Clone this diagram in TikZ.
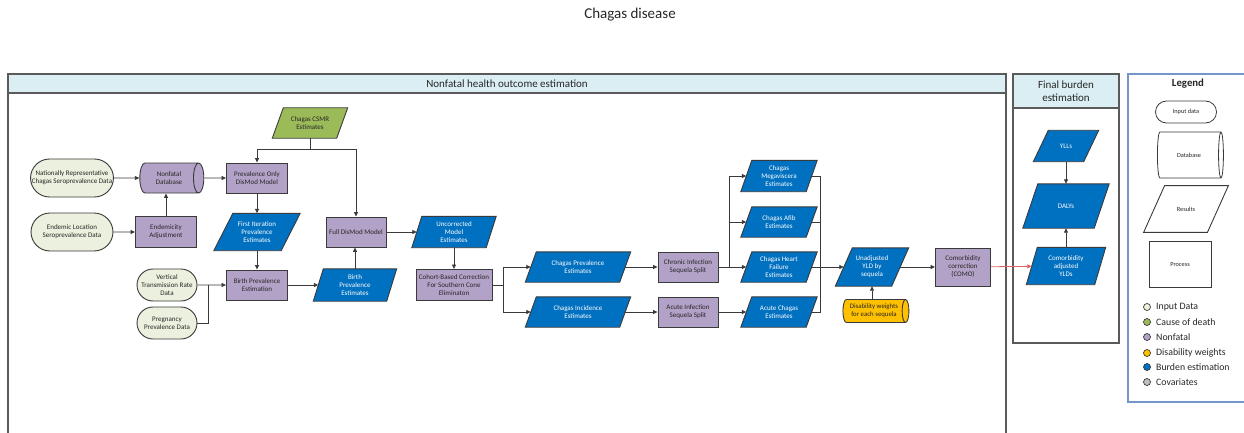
\documentclass[tikz,border=0pt]{standalone}
\usepackage{fontspec}
\setmainfont{Carlito}
\usetikzlibrary{shapes.geometric,shapes.misc,arrows.meta,calc}

\definecolor{inputc}{HTML}{EBF1DE}
\definecolor{deathc}{HTML}{9BBB59}
\definecolor{nonfatalc}{HTML}{B3A2C7}
\definecolor{dwc}{HTML}{FFC000}
\definecolor{burdenc}{HTML}{0070C0}
\definecolor{covc}{HTML}{BFBFBF}
\definecolor{headc}{HTML}{DAEEF3}
\definecolor{edgec}{HTML}{3A3A3A}
\definecolor{panelc}{HTML}{5A5A5A}
\definecolor{legendc}{HTML}{7395C8}
\definecolor{comoc}{HTML}{E06666}
\definecolor{textc}{HTML}{262626}

\pgfdeclarelayer{panels}
\pgfdeclarelayer{shapes}
\pgfsetlayers{panels,shapes,main}

\tikzset{
  base/.style={draw=edgec, line width=0.9pt, align=center, inner sep=0pt,
    font=\fontsize{7}{8}\selectfont, text=textc},
  datain/.style={base, rounded rectangle, fill=inputc},
  procbox/.style={base, rectangle, fill=nonfatalc},
  % text frame of a parallelogram; its outline is drawn on the shapes layer
  resultp/.style={align=center, inner sep=0pt, rectangle,
    font=\fontsize{7}{8}\selectfont, text=white},
  deathp/.style={resultp, text=textc},
  paraline/.style={draw=edgec, line width=0.9pt},
  dbase/.style={base, cylinder, shape aspect=0.8, fill=nonfatalc},
  conn/.style={draw=edgec, line width=0.8pt, -{Triangle[length=4.5pt,width=4pt]}},
  plain/.style={draw=edgec, line width=0.8pt},
  panel/.style={draw=panelc, line width=1.2pt},
  headtext/.style={font=\fontsize{11}{13}\selectfont, text=textc, align=center},
  legshape/.style={draw=edgec, line width=0.8pt, fill=white, align=center, inner sep=0pt,
    font=\fontsize{6.3}{7.5}\selectfont, text=textc},
  legdot/.style={circle, draw=edgec, line width=0.7pt, minimum size=7pt, inner sep=0pt},
  legtext/.style={anchor=west, font=\fontsize{9.8}{11}\selectfont, text=textc, inner sep=0pt},
}

\begin{document}
\begin{tikzpicture}[x=1pt, y=-1pt]
\path[use as bounding box] (0,0) rectangle (1244,433);
\clip (0,0) rectangle (1244,433);

% title
\node[font=\fontsize{15}{17}\selectfont, text=textc] (title) at (630,15) {Chagas disease};

% panels
\begin{pgfonlayer}{panels}
\draw[panel] (8,74) rectangle (1006,445);
\filldraw[panel, fill=headc] (8,74) rectangle (1006,93);
\draw[panel] (1013,74) rectangle (1119,343);
\filldraw[panel, fill=headc] (1013,74) rectangle (1119,108);
\draw[draw=legendc, line width=1.2pt] (1128,74) rectangle (1260,402);
\end{pgfonlayer}
\node[headtext] (mainhead) at (507,83.5) {Nonfatal health outcome estimation};
\node[headtext] (finalhead) at (1066,91) {Final burden\\estimation};
\node[font=\bfseries\fontsize{10.8}{12}\selectfont, text=textc] (leghead) at (1188,84) {Legend};

% ---------- nonfatal model ----------
\node[datain, minimum width=82pt, minimum height=38pt] (natrep) at (72,178)
  {Nationally Representative\\Chagas Seroprevalence Data};
\node[datain, minimum width=82pt, minimum height=38pt] (endloc) at (72,232)
  {Endemic Location\\Seroprevalence Data};
\node[dbase, minimum width=30pt, minimum height=64pt] (nfdb) at (169,178) {Nonfatal\\Database};
\node[procbox, minimum width=61pt, minimum height=31pt] (endadj) at (166,232) {Endemicity\\Adjustment};
\node[deathp, minimum width=64pt, minimum height=30pt] (csmr) at (310,123) {Chagas CSMR\\Estimates};
\node[procbox, minimum width=61pt, minimum height=30pt] (prevonly) at (257,178) {Prevalence Only\\DisMod Model};
\node[resultp, minimum width=67pt, minimum height=37pt] (firstit) at (257,232) {First Iteration\\Prevalence\\Estimates};
\node[datain, minimum width=60pt, minimum height=32pt] (vtr) at (167,285) {Vertical\\Transmission Rate\\Data};
\node[datain, minimum width=60pt, minimum height=32pt] (preg) at (167,323) {Pregnancy\\Prevalence Data};
\node[procbox, minimum width=61pt, minimum height=30pt] (birthest) at (257,285) {Birth Prevalence\\Estimation};
\node[resultp, minimum width=73pt, minimum height=32pt] (birthprev) at (355,285) {Birth\\Prevalence\\Estimates};
\node[procbox, minimum width=60pt, minimum height=30pt] (fulldm) at (356,232) {Full DisMod Model};
\node[resultp, minimum width=74pt, minimum height=31pt] (uncorr) at (454,232) {Uncorrected\\Model\\Estimates};
\node[procbox, minimum width=76pt, minimum height=31pt] (cohort) at (454,285)
  {Cohort-Based Correction\\For Southern Cone\\Eliminaton};
\node[resultp, minimum width=94pt, minimum height=30pt] (chprev) at (578,267) {Chagas Prevalence\\Estimates};
\node[resultp, minimum width=94pt, minimum height=30pt] (chinc) at (578,312) {Chagas Incidence\\Estimates};
\node[procbox, minimum width=60pt, minimum height=30pt] (chronic) at (688,267) {Chronic Infection\\Sequela Split};
\node[procbox, minimum width=60pt, minimum height=30pt] (acute) at (688,312) {Acute Infection\\Sequela Split};
\node[resultp, minimum width=65pt, minimum height=31pt] (mega) at (779,176) {Chagas\\Megaviscera\\Estimates};
\node[resultp, minimum width=65pt, minimum height=30pt] (afib) at (779,222) {Chagas Afib\\Estimates};
\node[resultp, minimum width=65pt, minimum height=30pt] (hf) at (779,267) {Chagas Heart\\Failure\\Estimates};
\node[resultp, minimum width=65pt, minimum height=30pt] (acest) at (779,312) {Acute Chagas\\Estimates};
\node[resultp, minimum width=56pt, minimum height=38pt] (unadj) at (872,267) {Unadjusted\\YLD by\\sequela};
\node[dbase, fill=dwc, shape aspect=0.5, minimum width=23pt, minimum height=66pt,
  font=\fontsize{6.8}{7.8}\selectfont] (dw) at (874,311)
  {Disability weights\\for each sequela};
\node[procbox, minimum width=55pt, minimum height=38pt] (como) at (963,267) {Comorbidity\\correction\\(COMO)};

% ---------- final burden ----------
\node[resultp, minimum width=50pt, minimum height=31pt] (ylls) at (1066,146) {YLLs};
\node[resultp, minimum width=71pt, minimum height=44pt] (dalys) at (1066,206) {DALYs};
\node[resultp, minimum width=68pt, minimum height=37pt] (cayld) at (1066,266) {Comorbidity\\adjusted\\YLDs};

% ---------- legend shapes ----------
\node[legshape, rounded rectangle, minimum width=61pt, minimum height=22pt] (lgin) at (1186,112) {Input data};
\node[legshape, cylinder, shape aspect=1.1, minimum width=46pt, minimum height=66pt] (lgdb) at (1189,155) {Database};
\node[legshape, draw=none, fill=none, rectangle, minimum width=63pt, minimum height=46pt] (lgres) at (1186,209) {Results};
\node[legshape, rectangle, minimum width=62pt, minimum height=46pt] (lgproc) at (1180,264) {Process};

% parallelogram outlines: name / fill / half of the horizontal slant
\begin{pgfonlayer}{shapes}
\foreach \nm/\cl/\sl in {csmr/deathc/5.5pt, firstit/burdenc/9.5pt, birthprev/burdenc/5pt,
    uncorr/burdenc/5pt, chprev/burdenc/5.5pt, chinc/burdenc/5.5pt, mega/burdenc/5.5pt,
    afib/burdenc/5.5pt, hf/burdenc/5.5pt, acest/burdenc/5.5pt, unadj/burdenc/8.5pt,
    ylls/burdenc/7.5pt, dalys/burdenc/7.5pt, cayld/burdenc/5.5pt, lgres/white/10.5pt}
  \filldraw[paraline, fill=\cl]
    let \p1=(\nm.north west), \p2=(\nm.south east) in
    (\x1+\sl,\y1) -- (\x2+\sl,\y1) -- (\x2-\sl,\y2) -- (\x1-\sl,\y2) -- cycle;
\end{pgfonlayer}

% ---------- connectors ----------
\coordinate (csj) at (310,149);
\coordinate (bpj) at (208,285);
\coordinate (cohj) at (503,285);
\coordinate (chj) at (729,267);
\coordinate (seqj) at (820,267);

\draw[conn] (natrep) -- (nfdb);
\draw[conn] (endloc) -- (endadj);
\draw[conn] (endadj.north) -- (endadj.north |- nfdb.south);
\draw[conn] (nfdb.east) -- (prevonly.west);
\draw[plain] (csmr.south) -- (csj);
\draw[conn] (csj) -| (prevonly.north);
\draw[conn] (csj) -| (fulldm.north);
\draw[conn] (prevonly) -- (firstit);
\draw[conn] (firstit) -- (birthest);
\draw[conn] (vtr) -- (birthest);
\draw[plain] (preg.east) -| (bpj);
\draw[conn] (birthest) -- (birthprev);
\draw[conn] (birthprev.north) -- (birthprev.north |- fulldm.south);
\draw[conn] (fulldm) -- (uncorr);
\draw[conn] (uncorr) -- (cohort);
\draw[plain] (cohort.east) -- (cohj);
\draw[conn] (cohj) |- (chprev);
\draw[conn] (cohj) |- (chinc);
\draw[conn] (chprev) -- (chronic);
\draw[conn] (chinc) -- (acute);
\draw[conn] (chronic) -- (hf);
\draw[conn] (chj) |- (mega);
\draw[conn] (chj) |- (afib);
\draw[conn] (acute) -- (acest);
\draw[plain] (mega) -| (seqj);
\draw[plain] (afib) -| (seqj);
\draw[plain] (acest) -| (seqj);
\draw[plain] (hf) -- (seqj);
\draw[conn] (seqj) -- (unadj);
\draw[conn] (unadj.south |- dw.north) -- (unadj.south);
\draw[conn] (unadj) -- (como);
\draw[conn, draw=comoc, -{Triangle[length=4.5pt,width=4pt,fill=comoc]}] (como) -- (cayld);
\draw[conn] (ylls) -- (dalys);
\draw[conn] (cayld) -- (dalys);

% ---------- legend key ----------
\node[legdot, fill=inputc] (d1) at (1147,307) {};
\node[legdot, fill=deathc] (d2) at (1147,322) {};
\node[legdot, fill=nonfatalc] (d3) at (1147,337) {};
\node[legdot, fill=dwc] (d4) at (1147,353) {};
\node[legdot, fill=burdenc] (d5) at (1147,367) {};
\node[legdot, fill=covc] (d6) at (1147,382) {};
\node[legtext] (t1) at (1156,307) {Input Data};
\node[legtext] (t2) at (1156,322) {Cause of death};
\node[legtext] (t3) at (1156,337) {Nonfatal};
\node[legtext] (t4) at (1156,353) {Disability weights};
\node[legtext] (t5) at (1156,367) {Burden estimation};
\node[legtext] (t6) at (1156,382) {Covariates};
\end{tikzpicture}
\end{document}
